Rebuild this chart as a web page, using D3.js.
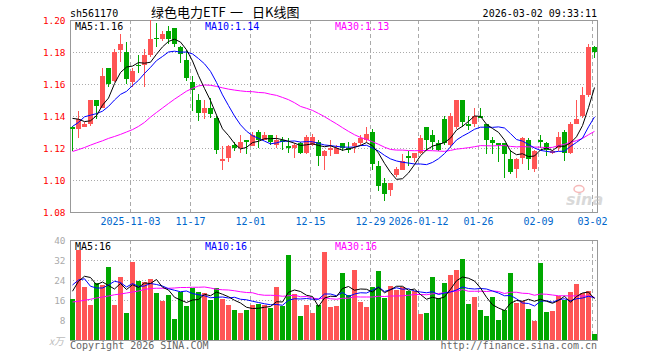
<!DOCTYPE html>
<html>
<head>
<meta charset="utf-8">
<script src="https://cdn.jsdelivr.net/npm/d3@7"></script>
<style>
  body { margin: 0; background: #fff; }
  svg { display: block; }
  text { font-family: "DejaVu Sans Mono", monospace; }
</style>
</head>
<body>
<svg id="chart" width="660" height="360"></svg>
<script>
// trading days shown, 2025-10-20 .. 2026-03-02
const dates = [
  "2025-10-20","2025-10-21","2025-10-22","2025-10-23","2025-10-24",
  "2025-10-27","2025-10-28","2025-10-29","2025-10-30","2025-10-31",
  "2025-11-03","2025-11-04","2025-11-05","2025-11-06","2025-11-07",
  "2025-11-10","2025-11-11","2025-11-12","2025-11-13","2025-11-14",
  "2025-11-17","2025-11-18","2025-11-19","2025-11-20","2025-11-21",
  "2025-11-24","2025-11-25","2025-11-26","2025-11-27","2025-11-28",
  "2025-12-01","2025-12-02","2025-12-03","2025-12-04","2025-12-05",
  "2025-12-08","2025-12-09","2025-12-10","2025-12-11","2025-12-12",
  "2025-12-15","2025-12-16","2025-12-17","2025-12-18","2025-12-19",
  "2025-12-22","2025-12-23","2025-12-24","2025-12-25","2025-12-26",
  "2025-12-29","2025-12-30","2025-12-31",
  "2026-01-05","2026-01-06","2026-01-07","2026-01-08","2026-01-09",
  "2026-01-12","2026-01-13","2026-01-14","2026-01-15","2026-01-16",
  "2026-01-19","2026-01-20","2026-01-21","2026-01-22","2026-01-23",
  "2026-01-26","2026-01-27","2026-01-28","2026-01-29","2026-01-30",
  "2026-02-02","2026-02-03","2026-02-04","2026-02-05","2026-02-06",
  "2026-02-09","2026-02-10","2026-02-11","2026-02-12","2026-02-13",
  "2026-02-24","2026-02-25","2026-02-26","2026-02-27",
  "2026-03-02"
];

const open = [1.133,1.132,1.133,1.135,1.150,1.145,1.170,1.162,1.181,1.180,
  1.161,1.172,1.172,1.178,1.189,1.188,1.193,1.195,1.183,1.175,
  1.161,1.150,1.142,1.145,1.139,1.112,1.114,1.122,1.120,1.125,
  1.121,1.130,1.125,1.128,1.122,1.125,1.121,1.120,1.123,1.117,
  1.122,1.124,1.115,1.119,1.116,1.123,1.120,1.121,1.123,1.125,
  1.130,1.109,1.098,1.094,1.103,1.106,1.115,1.114,1.117,1.133,
  1.128,1.123,1.138,1.122,1.133,1.150,1.135,1.135,1.140,1.135,
  1.125,1.123,1.123,1.113,1.107,1.114,1.125,1.107,1.125,1.123,
  1.117,1.120,1.130,1.117,1.135,1.140,1.153,1.183];
const high = [1.134,1.143,1.136,1.150,1.150,1.170,1.170,1.182,1.191,1.186,
  1.170,1.178,1.182,1.200,1.198,1.193,1.196,1.195,1.184,1.181,
  1.165,1.154,1.150,1.151,1.140,1.121,1.122,1.124,1.128,1.125,
  1.130,1.131,1.130,1.128,1.128,1.127,1.126,1.123,1.124,1.128,
  1.129,1.125,1.119,1.125,1.122,1.123,1.124,1.124,1.128,1.133,
  1.132,1.112,1.101,1.098,1.108,1.116,1.118,1.117,1.128,1.133,
  1.131,1.125,1.140,1.142,1.150,1.150,1.140,1.145,1.145,1.135,
  1.127,1.123,1.123,1.119,1.114,1.127,1.126,1.119,1.128,1.124,
  1.119,1.130,1.131,1.136,1.150,1.158,1.185,1.184];
const low = [1.118,1.126,1.133,1.134,1.138,1.145,1.158,1.161,1.174,1.160,
  1.158,1.167,1.158,1.177,1.183,1.187,1.185,1.183,1.173,1.162,
  1.143,1.137,1.138,1.139,1.116,1.106,1.111,1.118,1.117,1.116,
  1.121,1.120,1.125,1.122,1.120,1.119,1.117,1.114,1.116,1.116,
  1.121,1.109,1.106,1.115,1.116,1.118,1.117,1.117,1.122,1.124,
  1.106,1.093,1.087,1.090,1.102,1.106,1.109,1.111,1.116,1.118,
  1.119,1.118,1.122,1.120,1.132,1.133,1.131,1.133,1.139,1.116,
  1.116,1.111,1.101,1.104,1.101,1.110,1.106,1.105,1.120,1.115,
  1.116,1.118,1.112,1.116,1.135,1.139,1.152,1.176];
const close = [1.132,1.138,1.135,1.150,1.146,1.165,1.160,1.180,1.185,1.163,
  1.168,1.171,1.178,1.188,1.188,1.191,1.188,1.185,1.179,1.164,
  1.156,1.142,1.145,1.141,1.119,1.113,1.121,1.120,1.124,1.124,
  1.128,1.125,1.128,1.124,1.125,1.124,1.120,1.122,1.117,1.127,
  1.127,1.115,1.118,1.120,1.120,1.120,1.119,1.123,1.126,1.129,
  1.110,1.096,1.091,1.098,1.107,1.112,1.114,1.117,1.126,1.125,
  1.124,1.119,1.123,1.140,1.150,1.136,1.134,1.140,1.139,1.125,
  1.123,1.122,1.116,1.105,1.113,1.126,1.113,1.118,1.124,1.119,
  1.118,1.127,1.117,1.135,1.138,1.153,1.183,1.180];

// moving averages as drawn on the picture
const ma5 = [1.1385,1.138,1.1365,1.137,1.1402,1.1468,1.1512,1.1602,1.1672,1.1706,
  1.1712,1.1734,1.173,1.1736,1.1786,1.1832,1.1866,1.188,1.1862,1.1814,
  1.1744,1.1652,1.1572,1.1496,1.1406,1.132,1.1278,1.1228,1.1194,1.1204,
  1.1234,1.1242,1.1258,1.1258,1.126,1.1252,1.1242,1.123,1.1216,1.122,
  1.1226,1.1216,1.1208,1.1214,1.120,1.1186,1.1194,1.1204,1.1216,1.1234,
  1.1214,1.1168,1.1104,1.1048,1.1004,1.1008,1.1044,1.1096,1.1152,1.1188,
  1.1212,1.1222,1.1234,1.1262,1.1312,1.1336,1.1366,1.140,1.1398,1.1348,
  1.1322,1.1298,1.125,1.1182,1.1158,1.1164,1.1146,1.115,1.1188,1.120,
  1.1184,1.1212,1.121,1.1232,1.127,1.134,1.1452,1.1578];
const ma10 = [1.1335,1.136,1.1395,1.1405,1.1415,1.143,1.146,1.150,1.1535,1.1554,
  1.159,1.1623,1.1666,1.1704,1.1746,1.1772,1.180,1.1805,1.1799,1.180,
  1.1788,1.1759,1.1726,1.1679,1.161,1.1532,1.1465,1.140,1.1345,1.1305,
  1.1277,1.126,1.1243,1.1226,1.1232,1.1243,1.1242,1.1244,1.1237,1.124,
  1.1239,1.1229,1.1219,1.1215,1.121,1.1206,1.1205,1.1206,1.1215,1.1217,
  1.120,1.1181,1.1154,1.1132,1.1119,1.1111,1.1106,1.110,1.110,1.1096,
  1.111,1.1133,1.1165,1.1207,1.125,1.1274,1.1294,1.1317,1.133,1.133,
  1.1329,1.1332,1.1325,1.129,1.1253,1.1243,1.1222,1.120,1.1185,1.1179,
  1.1174,1.1179,1.118,1.121,1.1235,1.1262,1.1332,1.1394];
const ma30 = [1.1178,1.119,1.1203,1.1218,1.1232,1.1245,1.126,1.1272,1.1285,1.130,
  1.1315,1.1335,1.136,1.1393,1.1422,1.145,1.1478,1.1505,1.153,1.1555,
  1.1573,1.1588,1.1594,1.1592,1.1585,1.1576,1.1568,1.1562,1.1557,1.1553,
  1.1552,1.1547,1.1545,1.1536,1.1529,1.1516,1.1502,1.1483,1.146,1.1448,
  1.1435,1.1416,1.1396,1.1373,1.1351,1.1327,1.1304,1.1283,1.1266,1.1254,
  1.1239,1.1223,1.1205,1.1191,1.1187,1.1187,1.1184,1.1183,1.1184,1.1184,
  1.1183,1.1181,1.1179,1.1185,1.1193,1.1197,1.1202,1.1208,1.1215,1.1214,
  1.1213,1.1215,1.1215,1.121,1.1207,1.1209,1.1207,1.1206,1.1205,1.1202,
  1.1204,1.1215,1.1223,1.1236,1.1246,1.126,1.1283,1.1304];

// volume, 万手
const volume = [16.4,36.0,21.2,14.0,22.8,21.9,29.2,14.0,25.2,10.8,
  31.2,23.6,23.1,24.5,18.8,15.6,18.0,8.4,19.1,13.7,
  20.7,19.3,18.8,16.2,20.9,16.4,14.0,12.0,10.9,12.0,
  14.0,14.4,14.0,12.8,21.2,13.6,34.0,18.4,9.7,14.0,
  10.8,14.0,35.3,13.2,13.6,26.9,18.0,28.0,15.3,13.2,
  21.3,27.6,16.9,21.6,20.0,21.3,19.6,19.6,10.4,10.8,
  25.2,16.7,22.8,26.0,28.0,32.4,14.4,17.2,12.0,9.6,
  17.2,8.0,12.0,26.8,14.9,15.6,12.4,7.7,30.8,11.2,
  11.6,17.7,16.0,19.2,22.4,18.8,19.6,2.4];
const vma5 = [19.5,23.5,25.5,25.0,22.1,23.2,21.8,20.4,22.6,20.2,
  22.1,21.0,22.8,22.6,24.2,21.1,20.0,17.1,16.0,15.0,
  16.0,16.2,18.3,17.7,19.2,18.3,17.3,15.9,14.8,13.1,
  12.6,12.7,13.1,13.4,15.3,15.2,19.1,20.0,19.4,17.9,
  17.4,13.4,16.8,17.5,17.4,20.6,21.4,19.9,20.4,20.3,
  19.2,21.1,18.9,20.1,21.5,21.5,19.9,20.4,18.2,16.3,
  17.1,16.5,17.2,20.3,23.7,25.2,24.7,23.6,20.8,17.1,
  14.1,12.8,11.8,14.7,15.8,15.5,16.3,15.5,16.3,15.5,
  14.7,15.8,17.5,15.1,17.4,18.8,19.2,16.5];
const vma10 = [22.0,24.0,24.5,21.5,20.8,20.8,22.0,23.5,23.0,21.2,
  22.6,21.4,21.6,22.6,22.2,21.6,20.5,19.9,19.3,19.6,
  18.6,18.1,17.7,16.9,17.1,17.2,16.8,17.1,16.3,16.1,
  15.5,15.0,14.5,14.1,14.2,13.9,15.9,16.5,16.4,16.6,
  16.3,16.3,18.4,18.4,17.7,19.0,17.4,18.4,18.9,18.8,
  19.9,21.2,19.4,20.2,20.9,20.3,20.5,19.6,19.2,18.9,
  19.3,18.2,18.8,19.2,20.0,21.2,20.6,20.4,20.6,20.4,
  19.6,18.8,17.7,17.8,16.5,14.8,14.6,13.6,15.5,15.7,
  15.1,16.1,16.5,15.7,16.5,16.8,17.5,17.0];
const vma30 = [15.2,15.5,15.9,16.3,16.8,17.2,17.6,18.1,18.4,18.8,
  19.2,19.6,20.2,20.6,20.7,20.7,20.7,20.8,21.0,21.0,
  21.1,21.1,21.2,20.8,20.3,20.1,20.0,19.7,19.3,19.0,
  18.9,18.2,17.9,17.9,17.8,17.5,17.7,17.9,17.3,17.4,
  16.8,16.4,16.9,16.5,16.3,16.7,16.7,17.3,17.2,17.2,
  17.2,17.5,17.4,17.6,17.6,17.7,17.9,18.2,18.2,18.1,
  18.5,18.6,18.9,19.3,19.5,20.2,19.5,19.5,19.5,19.4,
  19.6,19.4,18.6,19.1,19.1,18.7,18.6,17.9,18.4,18.3,
  18.0,17.7,17.7,17.6,17.7,17.6,17.6,17.0];

const priceTicks = [1.08, 1.10, 1.12, 1.14, 1.16, 1.18, 1.20];
const volTicks = [0, 8, 16, 24, 32, 40];
const tickDates = ["2025-11-03","2025-11-17","2025-12-01","2025-12-15","2025-12-29",
  "2026-01-12","2026-01-26","2026-02-09","2026-03-02"];
const tickLabels = ["2025-11-03","11-17","12-01","12-15","12-29","2026-01-12","01-26","02-09","03-02"];

const RED = "#ff5555", GREEN = "#00a800", GRID = "#aaa", FRAME = "#999";

const svg = d3.select("#chart");
const left = 70, right = 598;
const pTop = 20, pBot = 212, vTop = 240, vBot = 340;

const x = d3.scaleBand().domain(dates).range([left, right]).paddingInner(0);
const y = d3.scaleLinear().domain([1.08, 1.20]).range([pBot, pTop]);
const yv = d3.scaleLinear().domain([0, 40]).range([vBot, vTop]);

const bars = dates.map((d, i) => ({
  d, o: open[i], h: high[i], l: low[i], c: close[i], v: volume[i]
}));
const isUp = b => b.c >= b.o;

// grids
const grid = svg.append("g").attr("shape-rendering", "crispEdges");
grid.selectAll("line.ph")
  .data(priceTicks.slice(1, -1))
  .enter().append("line")
  .attr("x1", left).attr("x2", right)
  .attr("y1", d => Math.round(y(d)) + 0.5).attr("y2", d => Math.round(y(d)) + 0.5)
  .attr("stroke", GRID).attr("stroke-dasharray", "1,2");
grid.selectAll("line.vh")
  .data(volTicks.slice(1, -1))
  .enter().append("line")
  .attr("x1", left).attr("x2", right)
  .attr("y1", d => Math.round(yv(d)) + 0.5).attr("y2", d => Math.round(yv(d)) + 0.5)
  .attr("stroke", GRID).attr("stroke-dasharray", "1,2");
[[pTop, pBot], [vTop, vBot]].forEach(([t, b]) => {
  grid.selectAll(null)
    .data(tickDates)
    .enter().append("line")
    .attr("x1", d => x(d) + 0.5).attr("x2", d => x(d) + 0.5)
    .attr("y1", t).attr("y2", b)
    .attr("stroke", GRID).attr("stroke-dasharray", "4,3");
});

// frames
svg.append("rect")
  .attr("x", left + 0.5).attr("y", pTop + 0.5)
  .attr("width", right - left - 1).attr("height", pBot - pTop)
  .attr("fill", "none").attr("stroke", FRAME).attr("shape-rendering", "crispEdges");
svg.append("rect")
  .attr("x", left + 0.5).attr("y", vTop + 0.5)
  .attr("width", right - left - 1).attr("height", vBot - vTop)
  .attr("fill", "none").attr("stroke", FRAME).attr("shape-rendering", "crispEdges");

// sina watermark
const wm = svg.append("g").attr("opacity", 0.55);
wm.append("text")
  .attr("x", 566).attr("y", 205)
  .style("font-family", "DejaVu Sans").style("font-style", "italic")
  .style("font-weight", "bold").style("font-size", "16px")
  .attr("fill", "#bbb").text("sina");
wm.append("ellipse")
  .attr("cx", 579).attr("cy", 189).attr("rx", 5).attr("ry", 3.5)
  .attr("fill", "none").attr("stroke", "#f08080").attr("stroke-width", 1.5);

// candles
const cg = svg.append("g").attr("shape-rendering", "crispEdges");
const candle = cg.selectAll("g").data(bars).enter().append("g");
candle.append("line")
  .attr("x1", b => x(b.d) + 2.5).attr("x2", b => x(b.d) + 2.5)
  .attr("y1", b => y(b.h)).attr("y2", b => y(b.l))
  .attr("stroke", b => isUp(b) ? RED : GREEN);
candle.append("rect")
  .attr("x", b => x(b.d)).attr("width", 5)
  .attr("y", b => Math.min(y(b.o), y(b.c)))
  .attr("height", b => Math.max(1, Math.abs(y(b.o) - y(b.c))))
  .attr("fill", b => isUp(b) ? RED : GREEN);

// volume bars
svg.append("g").attr("shape-rendering", "crispEdges")
  .selectAll("rect").data(bars).enter().append("rect")
  .attr("x", b => x(b.d)).attr("width", 5)
  .attr("y", b => yv(b.v)).attr("height", b => vBot - yv(b.v))
  .attr("fill", b => isUp(b) ? RED : GREEN);

// moving average lines
function maLine(values, scale, color) {
  const line = d3.line()
    .x((v, i) => x(dates[i]) + 2.5)
    .y(v => scale(v));
  svg.append("path")
    .attr("d", line(values))
    .attr("fill", "none").attr("stroke", color).attr("stroke-width", 1);
}
maLine(ma30, y, "#ff00ff");
maLine(ma10, y, "#0000ff");
maLine(ma5, y, "#000");
maLine(vma30, yv, "#ff00ff");
maLine(vma10, yv, "#0000ff");
maLine(vma5, yv, "#000");

// y axis labels
svg.append("g").selectAll("text").data(priceTicks).enter().append("text")
  .attr("x", 65.5).attr("y", d => y(d) + 4)
  .attr("text-anchor", "end").attr("fill", "#f00")
  .style("font-size", "9.4px")
  .text(d => d.toFixed(2));
svg.append("g").selectAll("text").data(volTicks.slice(1)).enter().append("text")
  .attr("x", 65.5).attr("y", d => yv(d) + 3.6)
  .attr("text-anchor", "end").attr("fill", "#aaa")
  .style("font-size", "9.4px")
  .text(d => d);
svg.append("text")
  .attr("x", 64).attr("y", 344.5).attr("text-anchor", "end")
  .attr("fill", "#bbb").style("font-size", "10px").style("font-style", "italic")
  .style("font-family", "Noto Sans CJK SC")
  .text("x万");

// x axis labels
svg.append("g").selectAll("text").data(tickDates).enter().append("text")
  .attr("x", d => x(d) + 0.5).attr("y", 225)
  .attr("text-anchor", "middle").attr("fill", "#0066cc")
  .style("font-size", "10px")
  .text((d, i) => tickLabels[i]);

// legends
const last = dates.length - 1;
const legend = (yy, items) => items.forEach(([xx, txt, col]) => {
  svg.append("text").attr("x", xx).attr("y", yy).attr("fill", col)
    .style("font-size", "10px").text(txt);
});
legend(30, [
  [75, "MA5:" + ma5[last].toFixed(2), "#000"],
  [205, "MA10:" + ma10[last].toFixed(2), "#0000ff"],
  [335, "MA30:" + ma30[last].toFixed(2), "#ff00ff"]
]);
legend(250, [
  [75, "MA5:16", "#000"],
  [205, "MA10:16", "#0000ff"],
  [335, "MA30:16", "#ff00ff"]
]);

// header
svg.append("text").attr("x", 70).attr("y", 16.5).attr("fill", "#000")
  .style("font-size", "10px").text("sh561170");
const title = svg.append("text").attr("y", 17).attr("fill", "#000")
  .style("font-family", "Noto Sans CJK SC").style("font-size", "13px");
[[151, "绿色电力ETF"], [230, "一"], [252, "日K线图"]].forEach(([xx, t]) => {
  title.append("tspan").attr("x", xx).text(t);
});
svg.append("text").attr("x", 597).attr("y", 16.5).attr("text-anchor", "end")
  .attr("fill", "#000").style("font-size", "10px").text("2026-03-02 09:33:11");

// footer
svg.append("text").attr("x", 70).attr("y", 349).attr("fill", "#666")
  .style("font-size", "10px").text("Copyright 2026 SINA.COM");
svg.append("text").attr("x", 597).attr("y", 349).attr("text-anchor", "end")
  .attr("fill", "#666").style("font-size", "10px").text("http://finance.sina.com.cn");
</script>
</body>
</html>
